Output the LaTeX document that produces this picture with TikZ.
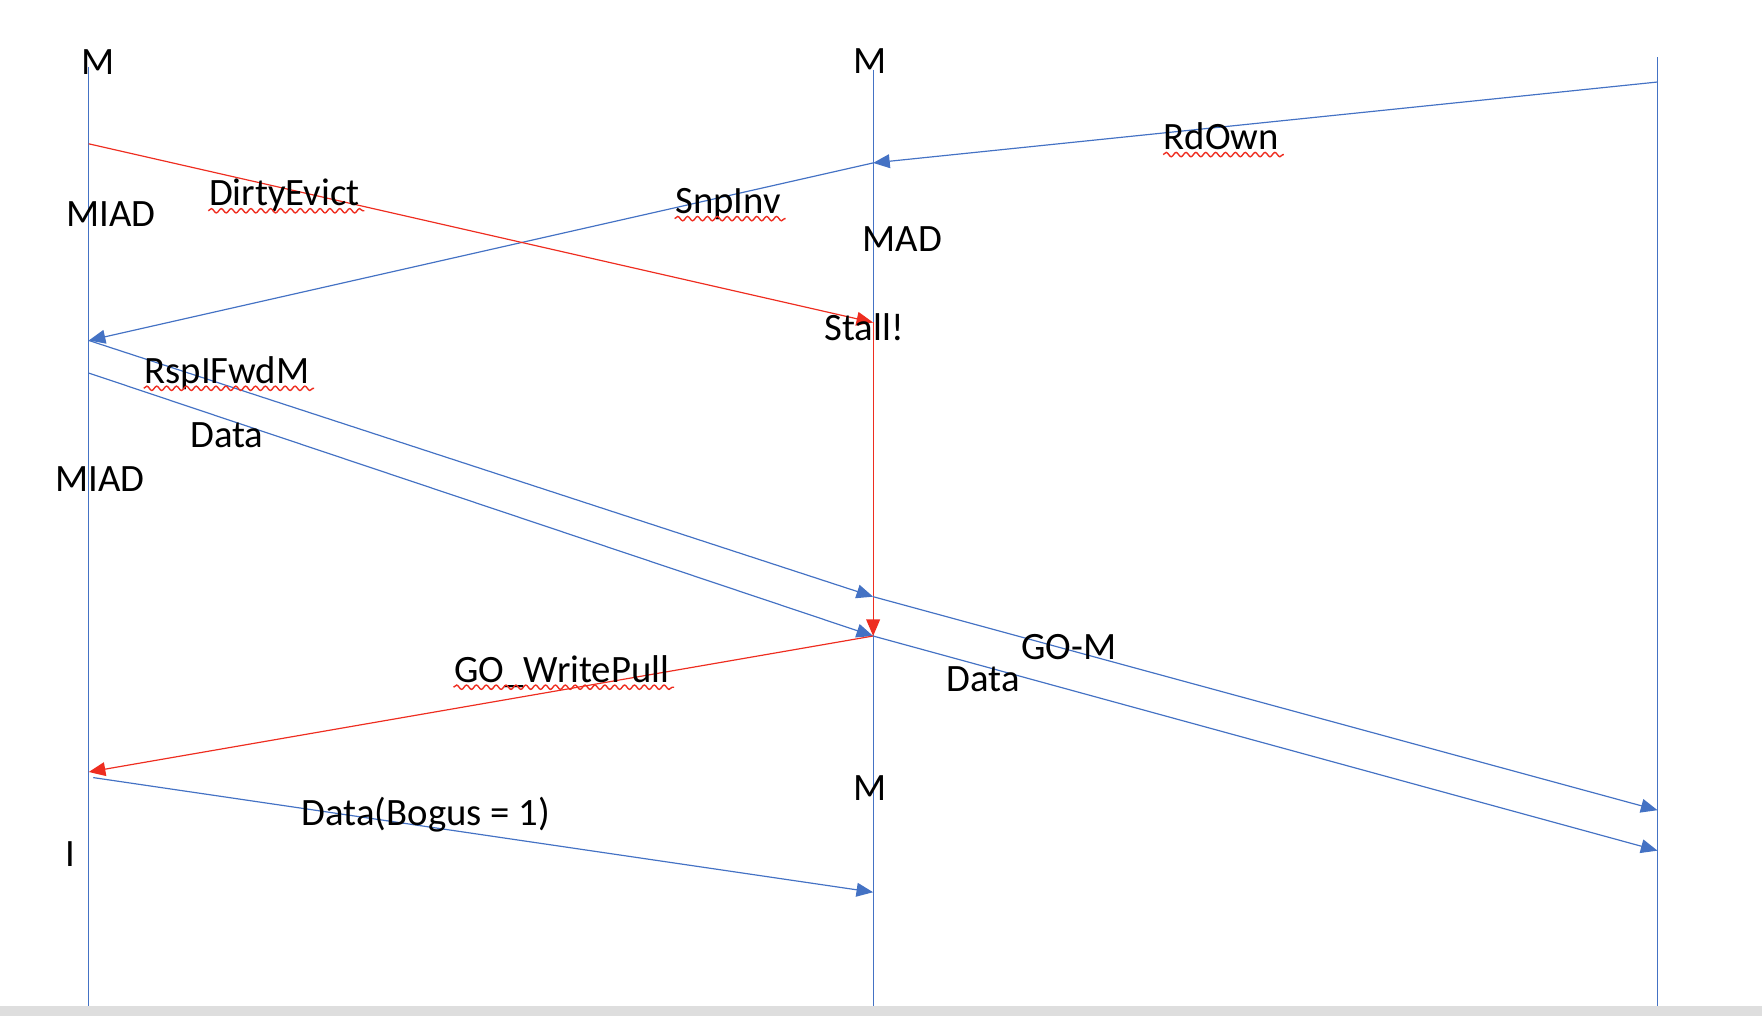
\documentclass[tikz,border=0pt]{standalone}
\usepackage{fontspec}
\setmainfont{Carlito}
\usetikzlibrary{arrows.meta,decorations.pathmorphing}
\definecolor{lineblue}{RGB}{68,114,196}
\definecolor{linered}{RGB}{238,45,32}
\begin{document}
\begin{tikzpicture}[x=0.01cm,y=-0.01cm,
    life/.style={lineblue,line width=0.3pt},
    msg/.style={lineblue,line width=0.3pt,-{Triangle[length=4.2pt,width=3.5pt]}},
    evict/.style={msg,linered},
    lbl/.style={inner sep=0pt,anchor=base,font=\fontsize{9.8}{12}\selectfont},
    spell/.style={linered,line width=0.35pt,decorate,decoration={snake,amplitude=0.55pt,segment length=2.5pt}}]
  \useasboundingbox (0,0) rectangle (1568,904);
  \fill[black!13] (0,895) rectangle (1568,904);
  % lifelines
  \coordinate (ltop) at (79,60);   \coordinate (lbot) at (79,895);
  \coordinate (mtop) at (777,62);  \coordinate (mbot) at (777,895);
  \coordinate (rtop) at (1475,51); \coordinate (rbot) at (1475,895);
  \draw[life] (ltop) -- (lbot);
  \draw[life] (mtop) -- (mbot);
  \draw[life] (rtop) -- (rbot);
  % points on the lifelines
  \coordinate (l1) at (79,128);  \coordinate (l2) at (79,303);  \coordinate (l3) at (79,332);
  \coordinate (l4) at (79,687);  \coordinate (l5) at (83,692);
  \coordinate (m1) at (777,145); \coordinate (m2) at (777,287); \coordinate (m3) at (777,531);
  \coordinate (m4) at (777,566); \coordinate (m5) at (777,794);
  \coordinate (r1) at (1475,73); \coordinate (r2) at (1475,721); \coordinate (r3) at (1475,757);
  % messages
  \draw[msg] (r1) -- (m1);
  \draw[msg] (m1) -- (l2);
  \draw[evict] (l1) -- (m2);
  \draw[evict] (m2) -- (m4);
  \draw[msg] (l2) -- (m3);
  \draw[msg] (m3) -- (r2);
  \draw[msg] (l3) -- (m4);
  \draw[msg] (m4) -- (r3);
  \draw[evict] (m4) -- (l4);
  \draw[msg] (l5) -- (m5);
  % states
  \node[lbl] (stl1) at (87,66) {M};
  \node[lbl] (stm1) at (774,65) {M};
  \node[lbl] (stl2) at (99,202) {MIAD};
  \node[lbl] (stm2) at (803,224) {MAD};
  \node[lbl] (stall) at (769,303) {Stall!};
  \node[lbl] (stl3) at (89,437) {MIAD};
  \node[lbl] (stm3) at (774,712) {M};
  \node[lbl] (stl4) at (63,771) {I};
  % message labels
  \node[lbl] (rdown) at (1087,133) {RdOwn};
  \node[lbl] (snpinv) at (648,190) {SnpInv};
  \node[lbl] (dirty) at (253,183) {DirtyEvict};
  \node[lbl] (rspfwd) at (202,341) {RspIFwdM};
  \node[lbl] (data1) at (202,398) {Data};
  \node[lbl] (gom) at (951,587) {GO-M};
  \node[lbl] (data2) at (875,615) {Data};
  \node[lbl] (gowp) at (500,607) {GO\_WritePull};
  \node[lbl] (bogus) at (379,735) {Data(Bogus = 1)};
  % spell check marks
  \foreach \w in {rdown,snpinv,dirty,rspfwd,gowp}
    \draw[spell] ([yshift=-1.3pt]\w.base west) -- ([yshift=-1.3pt,xshift=1pt]\w.base east);
\end{tikzpicture}
\end{document}
